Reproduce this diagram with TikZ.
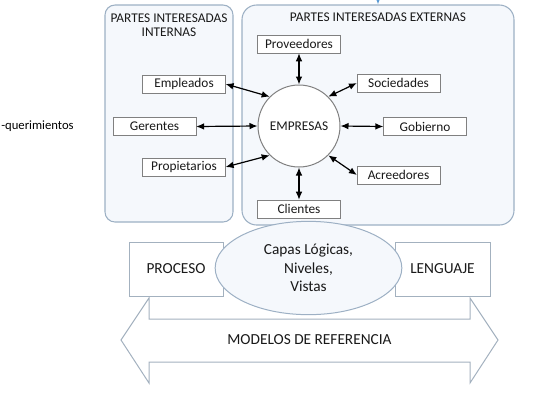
\documentclass[tikz,border=0pt]{standalone}
\usepackage{fontspec}
\setmainfont{Carlito}
\usetikzlibrary{arrows.meta,shapes.geometric}

\definecolor{frame}{HTML}{9DB0C4}
\definecolor{panel}{HTML}{F5F8FC}
\definecolor{boxline}{HTML}{808080}
\definecolor{shapeline}{HTML}{A3B1BF}
\definecolor{tipblue}{HTML}{5B9BD5}

\tikzset{
	group/.style	= {draw=frame, fill=panel, rounded corners=7.5pt, line width=0.8pt, inner sep=0pt},
	party/.style	= {draw=boxline, fill=white, minimum width=62pt, minimum height=13.5pt, inner sep=0pt, font=\fontsize{10}{12}\selectfont},
	link/.style	= {{Latex[length=6pt,width=5pt]}-{Latex[length=6pt,width=5pt]}, line width=0.9pt},
	block/.style	= {draw=shapeline, fill=white, line width=0.75pt, inner sep=0pt, font=\fontsize{11.5}{14}\selectfont}
}

\begin{document}
\begin{tikzpicture}[x=0.75pt, y=-0.75pt, text=black!90]
	\useasboundingbox (0,0) rectangle (539,401);

	% stakeholder groups
	\node (int) at (169,113.5)	[group, minimum width=96pt, minimum height=162.75pt]	{};
	\node (ext) at (378,115)	[group, minimum width=204pt, minimum height=165pt, rounded corners=11pt]	{};
	\node (inttitle) at (169,25)	[align=center, font=\fontsize{10}{10.5}\selectfont]	{PARTES INTERESADAS\\INTERNAS};
	\node (exttitle) at (378,17)	[font=\fontsize{10}{12}\selectfont]	{PARTES INTERESADAS EXTERNAS};

	\coordinate (feed) at (378,-10);
	\draw[tipblue, line width=0.8pt, -{Latex[length=5pt,width=4pt]}] (feed) -- (ext.north);

	\node (req) at (1,126)	[anchor=west, inner sep=0pt, text=black, font=\fontsize{9.5}{12}\selectfont]	{-querimientos};

	% the company and its parties
	\node (empresas) at (299,126)	[circle, draw=boxline, fill=white, line width=0.75pt, minimum size=61.5pt, inner sep=0pt, font=\fontsize{10}{12}\selectfont]	{EMPRESAS};
	\node (emp)  at (184,84)	[party]	{Empleados};
	\node (ger)  at (154.5,126.5)	[party]	{Gerentes};
	\node (prop) at (184,167)	[party]	{Propietarios};
	\node (prov) at (299,44)	[party]	{Proveedores};
	\node (soc)  at (398.5,83)	[party]	{Sociedades};
	\node (gob)  at (425,126.5)	[party]	{Gobierno};
	\node (acr)  at (398.5,175)	[party]	{Acreedores};
	\node (cli)  at (299,209)	[party]	{Clientes};

	\draw[link] (emp.east) -- (empresas.135);
	\draw[link] (ger.east) -- (empresas.west);
	\draw[link] (prop.east) -- (empresas.225);
	\draw[link] (prov.south) -- (empresas.north);
	\draw[link] (soc.west) -- (empresas.45);
	\draw[link] (empresas.east) -- (gob.west);
	\draw[link] (acr.west) -- (empresas.-45);
	\draw[link] (empresas.south) -- (cli.north);

	% reference models
	\node (proceso)  at (176,269)	[block, minimum width=70.5pt, minimum height=40.5pt]	{PROCESO};
	\node (lenguaje) at (442.5,269)	[block, minimum width=71.25pt, minimum height=40.5pt]	{LENGUAJE};
	\node (capas) at (308.5,268)	[ellipse, draw=frame, fill=panel, line width=0.75pt, minimum width=140pt, minimum height=70pt, inner sep=0pt, align=center, font=\fontsize{11.5}{13.9}\selectfont]	{Capas Lógicas,\\Niveles,\\Vistas};

	\draw[draw=shapeline, line width=0.75pt] (149,319) -- (470,319) -- (470,298) -- (498,340) -- (470,383) -- (470,362)
		-- (149,362) -- (149,383) -- (121,340) -- (149,298) -- cycle;
	\node (modelos) at (309.5,340)	[font=\fontsize{11.5}{14}\selectfont]	{MODELOS DE REFERENCIA};
\end{tikzpicture}
\end{document}
